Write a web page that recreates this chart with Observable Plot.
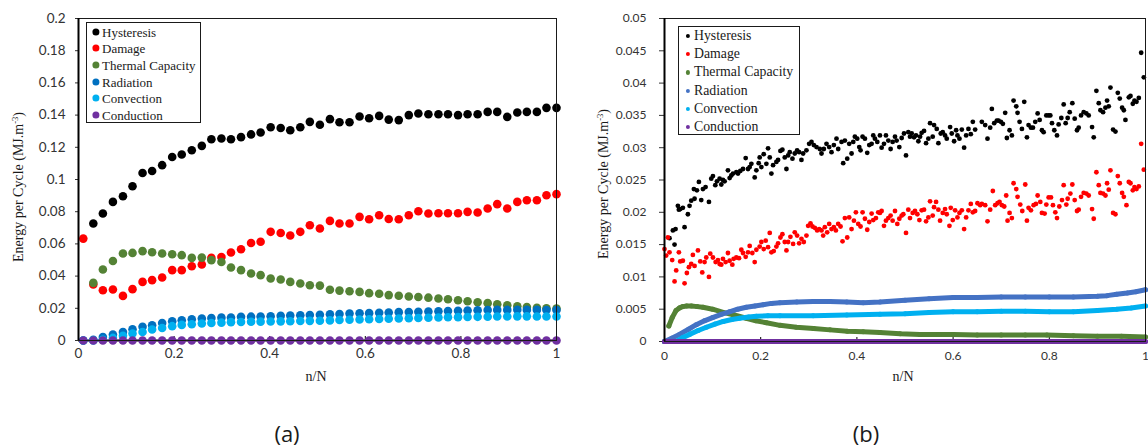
<!DOCTYPE html>
<html><head><meta charset="utf-8">
<script src="https://cdn.jsdelivr.net/npm/d3@7"></script>
<script src="https://cdn.jsdelivr.net/npm/@observablehq/plot@0.6"></script>
<style>
body{margin:0;background:#fff;}
#root{position:relative;width:1148px;height:448px;overflow:hidden;background:#fff;}
.panel{position:absolute;top:0;}
.panel svg{overflow:visible;}
.legend{position:absolute;border:1.3px solid #1a1a1a;background:#fff;box-sizing:border-box;}
.legend .e{position:absolute;white-space:nowrap;font-family:"Liberation Serif",serif;color:#1a1a1a;line-height:1;transform:translateY(-50%);}
.legend .m{position:absolute;border-radius:50%;transform:translate(-50%,-50%);}
.ytitle{position:absolute;white-space:nowrap;font-family:"Liberation Serif",serif;font-size:14px;color:#1a1a1a;transform:translate(-50%,-50%) rotate(-90deg);}
.ytitle sup{font-size:8.5px;vertical-align:5px;}
.xtitle{position:absolute;white-space:nowrap;font-family:"Liberation Serif",serif;font-size:14px;color:#1a1a1a;transform:translate(-50%,-50%);}
.tag{position:absolute;white-space:nowrap;font-family:"Open Sans",sans-serif;font-size:22px;color:#1a1a1a;transform:translate(-50%,-50%);}
</style>
</head><body>
<div id="root"></div>
<script>
// ---------- shared ----------
const seriesNames = ["Hysteresis","Damage","Thermal Capacity","Radiation","Convection","Conduction"];
const colorsA = ["#000000","#ff0000","#548235","#0070c0","#00b0f0","#7030a0"];
const colorsB = ["#000000","#ff0000","#548235","#4472c4","#00b0f0","#7030a0"];
const xTicks = [0, 0.2, 0.4, 0.6, 0.8, 1];
const yTicksA = [0, 0.02, 0.04, 0.06, 0.08, 0.1, 0.12, 0.14, 0.16, 0.18, 0.2];
const yTicksB = [0, 0.005, 0.01, 0.015, 0.02, 0.025, 0.03, 0.035, 0.04, 0.045, 0.05];

// ---------- panel (a) ----------
const nA = [0.01,0.031,0.051,0.072,0.093,0.113,0.134,0.154,0.175,0.196,0.216,0.237,0.258,0.278,0.299,0.319,0.34,0.361,0.381,0.402,0.423,0.443,0.464,0.484,0.505,0.526,0.546,0.567,0.588,0.608,0.629,0.649,0.67,0.691,0.711,0.732,0.753,0.773,0.794,0.814,0.835,0.856,0.876,0.897,0.918,0.938,0.959,0.979,1.0];
const hysA = [null,0.0727,0.0789,0.0861,0.0896,0.0958,0.104,0.1053,0.1089,0.114,0.1155,0.1182,0.1209,0.125,0.1255,0.125,0.1263,0.128,0.1292,0.1325,0.132,0.1306,0.1325,0.1358,0.134,0.1375,0.1356,0.1356,0.1391,0.138,0.1395,0.1372,0.1369,0.140,0.141,0.1405,0.1405,0.1405,0.140,0.1405,0.1405,0.142,0.142,0.1389,0.1416,0.142,0.142,0.1445,0.1445];
const dmgA = [0.0633,0.0348,0.0312,0.0317,0.0277,0.0319,0.0364,0.0375,0.0391,0.0437,0.0437,0.0461,0.0472,0.0513,0.0519,0.0547,0.0567,0.0606,0.0613,0.0675,0.0668,0.0652,0.0675,0.0716,0.0696,0.0743,0.0727,0.0727,0.0768,0.0753,0.0778,0.0755,0.0753,0.0778,0.0803,0.0789,0.079,0.079,0.079,0.0799,0.0795,0.082,0.0847,0.082,0.0861,0.0871,0.0871,0.0902,0.0909];
const thmA = [null,0.0358,0.0441,0.0494,0.054,0.0544,0.0555,0.0548,0.054,0.0536,0.053,0.0513,0.0515,0.0499,0.0488,0.0453,0.0437,0.0416,0.0406,0.0385,0.0379,0.0364,0.0354,0.0343,0.0341,0.0315,0.031,0.0306,0.0302,0.0294,0.029,0.0282,0.0278,0.0273,0.027,0.0266,0.0261,0.0256,0.025,0.0244,0.0238,0.0232,0.0225,0.0219,0.0213,0.0208,0.0203,0.02,0.0199];
const radA = [0,0.0005,0.0022,0.0037,0.0053,0.007,0.0085,0.0095,0.0109,0.012,0.0126,0.0132,0.0137,0.014,0.0142,0.0143,0.0147,0.0148,0.0149,0.0151,0.0153,0.0155,0.0157,0.0158,0.016,0.0163,0.0165,0.0167,0.0169,0.017,0.0172,0.0174,0.0176,0.0177,0.0179,0.018,0.0182,0.0183,0.0185,0.0186,0.0188,0.0189,0.019,0.019,0.0191,0.019,0.019,0.0189,0.0189];
const cnvA = [0,0,0.0005,0.0016,0.0029,0.0043,0.0053,0.0068,0.0078,0.0089,0.0097,0.0101,0.0106,0.0109,0.0111,0.0114,0.0115,0.0116,0.0117,0.0118,0.0119,0.012,0.0121,0.0122,0.0123,0.0125,0.0127,0.0129,0.013,0.0132,0.0134,0.0135,0.0137,0.0138,0.014,0.0141,0.0143,0.0144,0.0145,0.0146,0.0147,0.0148,0.0149,0.0149,0.015,0.015,0.0149,0.0149,0.0149];
const cndA = [0,0,0,0,0,0,0,0,0,0,0,0,0,0,0,0,0,0,0,0,0,0,0,0,0,0,0,0,0,0,0,0,0,0,0,0,0,0,0,0,0,0,0,0,0,0,0,0,0];

// ---------- panel (b) ----------
const hysB = [[0.0104,0.016],[0.0174,0.0172],[0.0209,0.015],[0.023,0.0174],[0.0278,0.021],[0.0299,0.0204],[0.0327,0.0205],[0.0382,0.0207],[0.0417,0.0177],[0.0486,0.0197],[0.0521,0.021],[0.0556,0.0218],[0.0611,0.0236],[0.0625,0.0221],[0.0674,0.0234],[0.0715,0.0247],[0.0764,0.0219],[0.0799,0.0236],[0.0854,0.0239],[0.0924,0.0216],[0.0972,0.0252],[0.1007,0.0256],[0.1056,0.0242],[0.109,0.0248],[0.1146,0.0252],[0.1181,0.0243],[0.1215,0.025],[0.125,0.0248],[0.1319,0.0265],[0.1354,0.0253],[0.1389,0.0257],[0.1424,0.026],[0.1493,0.0262],[0.1528,0.026],[0.1576,0.0264],[0.1632,0.0267],[0.1688,0.0284],[0.1736,0.0267],[0.1771,0.027],[0.1806,0.0275],[0.1875,0.0254],[0.191,0.0265],[0.1958,0.0276],[0.1979,0.0285],[0.2014,0.027],[0.2063,0.029],[0.2118,0.0275],[0.2153,0.0299],[0.2188,0.0285],[0.2222,0.026],[0.2257,0.0273],[0.2326,0.0278],[0.2361,0.0281],[0.241,0.0295],[0.2451,0.0297],[0.25,0.0285],[0.2535,0.0267],[0.257,0.0288],[0.2604,0.0293],[0.266,0.0283],[0.2708,0.0291],[0.2757,0.0296],[0.2799,0.0293],[0.2847,0.0281],[0.2882,0.0291],[0.2951,0.0296],[0.3007,0.0306],[0.3056,0.0309],[0.3104,0.0304],[0.316,0.0301],[0.3229,0.0298],
[0.3264,0.0291],[0.3313,0.0298],[0.3368,0.0306],[0.3424,0.0301],[0.3472,0.0293],[0.3521,0.0304],[0.3576,0.0314],[0.3611,0.0298],[0.3681,0.0309],[0.3715,0.0276],[0.375,0.0311],[0.3799,0.0283],[0.384,0.0306],[0.3889,0.0291],[0.3924,0.0309],[0.3958,0.0317],[0.4007,0.0314],[0.4049,0.0301],[0.4076,0.0296],[0.4118,0.0317],[0.4167,0.0314],[0.4215,0.0292],[0.4257,0.0304],[0.4306,0.0306],[0.434,0.0319],[0.4375,0.0314],[0.4424,0.0309],[0.4479,0.0319],[0.4514,0.03],[0.4563,0.0306],[0.4604,0.0319],[0.4653,0.0311],[0.4701,0.0298],[0.4743,0.0309],[0.4792,0.0317],[0.4826,0.0311],[0.4882,0.0301],[0.4931,0.0315],[0.4979,0.0322],[0.5021,0.0288],[0.5069,0.0324],[0.5104,0.0317],[0.5139,0.0322],[0.5188,0.0316],[0.5229,0.0319],[0.5278,0.031],[0.5313,0.0317],[0.5347,0.0323],[0.5396,0.0326],[0.5438,0.0307],[0.5486,0.0314],[0.5521,0.0338],[0.5576,0.0317],[0.5604,0.0335],[0.566,0.0329],[0.5694,0.0307],[0.5743,0.0322],[0.5785,0.0324],[0.5833,0.0319],[0.5868,0.0314],[0.5938,0.0332],[0.5972,0.0322],[0.6021,0.031],[0.6063,0.0327],[0.609,0.0319],[0.6132,0.0314],[0.6181,0.0328],[0.6229,0.03],[0.6271,0.0319],[0.6319,0.0329],[0.6368,0.0321],[0.641,0.034],[0.6458,0.0328],
[0.6597,0.034],[0.6667,0.0335],[0.6715,0.0314],[0.6771,0.0331],[0.6806,0.036],[0.6854,0.0338],[0.691,0.0342],[0.6944,0.0342],[0.6993,0.034],[0.7035,0.0337],[0.7083,0.0354],[0.7118,0.0315],[0.7174,0.0327],[0.7222,0.0319],[0.7257,0.0373],[0.7313,0.0364],[0.734,0.0354],[0.7382,0.034],[0.7431,0.0329],[0.7479,0.0371],[0.7535,0.0316],[0.7569,0.0335],[0.7618,0.0331],[0.766,0.0331],[0.7708,0.034],[0.7757,0.0353],[0.7799,0.0343],[0.7847,0.0327],[0.7882,0.0324],[0.7938,0.035],[0.7986,0.035],[0.8021,0.035],[0.8056,0.0338],[0.8104,0.0327],[0.816,0.0319],[0.8194,0.0336],[0.825,0.0346],[0.8299,0.0367],[0.834,0.0338],[0.8382,0.0346],[0.8424,0.0355],[0.8479,0.0369],[0.8528,0.0345],[0.8576,0.0327],[0.8611,0.0331],[0.866,0.035],[0.8715,0.0355],[0.8771,0.0353],[0.8819,0.035],[0.8889,0.0332],[0.8924,0.0316],[0.8979,0.0388],[0.9028,0.0369],[0.9063,0.0358],[0.9118,0.0355],[0.9167,0.0362],[0.9201,0.0373],[0.9236,0.0364],[0.9271,0.0393],[0.9326,0.0328],[0.9375,0.0325],[0.9424,0.0385],[0.9465,0.0376],[0.9514,0.0362],[0.9549,0.0358],[0.9583,0.0343],[0.9653,0.0378],[0.9688,0.038],[0.9736,0.0368],[0.9771,0.0373],[0.9813,0.0371],[0.9861,0.0377],[0.991,0.0447],[0.9965,0.0409]];

const dmgB = [[0.0,0.0143],[0.0035,0.0133],[0.007,0.0161],[0.0104,0.0138],[0.016,0.0126],[0.0209,0.0093],[0.0243,0.011],[0.0299,0.0138],[0.0327,0.0124],[0.0382,0.0125],[0.0417,0.009],[0.0465,0.0106],[0.0507,0.0115],[0.0556,0.012],[0.059,0.0134],[0.0625,0.0117],[0.0695,0.0141],[0.0743,0.0124],[0.0785,0.0107],[0.0833,0.0123],[0.0868,0.013],[0.0924,0.01],[0.0951,0.0136],[0.1007,0.013],[0.1063,0.0123],[0.1111,0.0126],[0.1146,0.012],[0.1181,0.0119],[0.1215,0.0128],[0.1271,0.0123],[0.1319,0.0137],[0.1354,0.0125],[0.141,0.0119],[0.1438,0.0128],[0.1493,0.013],[0.1549,0.0129],[0.1597,0.0142],[0.1632,0.0137],[0.1688,0.0131],[0.1736,0.0138],[0.1771,0.0148],[0.1826,0.0137],[0.1875,0.0123],[0.191,0.0142],[0.1979,0.0147],[0.2014,0.0154],[0.2063,0.0143],[0.2104,0.0156],[0.2153,0.0146],[0.2188,0.0168],[0.2222,0.0138],[0.2271,0.014],[0.2326,0.0147],[0.2361,0.0152],[0.241,0.0161],[0.2451,0.0166],[0.25,0.0154],[0.2535,0.0141],[0.257,0.0154],[0.2618,0.0162],[0.2674,0.0151],[0.2708,0.0169],[0.2757,0.0164],[0.2799,0.0152],[0.2847,0.0159],[0.2896,0.0154],[0.2951,0.0164],[0.2986,0.0179],[0.3035,0.0183],[0.3076,0.0178],[0.3125,0.0176],[0.3174,0.0172],[0.3215,0.0174],
[0.3264,0.0172],[0.3299,0.0164],[0.3333,0.0177],[0.3382,0.0169],[0.3424,0.0182],[0.3472,0.0174],[0.3521,0.0177],[0.3563,0.0172],[0.3611,0.0182],[0.366,0.0178],[0.3701,0.0155],[0.375,0.0191],[0.3799,0.0161],[0.384,0.0192],[0.3889,0.0174],[0.3938,0.0187],[0.3979,0.02],[0.4028,0.0182],[0.4076,0.0178],[0.4118,0.02],[0.4167,0.019],[0.4215,0.0173],[0.4257,0.0185],[0.4306,0.0198],[0.434,0.0188],[0.4396,0.0191],[0.4444,0.02],[0.4479,0.0199],[0.4514,0.0202],[0.4563,0.0179],[0.4604,0.0187],[0.4653,0.0191],[0.4701,0.0195],[0.4743,0.0187],[0.4792,0.0202],[0.484,0.0182],[0.4882,0.019],[0.4931,0.0195],[0.4965,0.0197],[0.5021,0.0168],[0.5069,0.0204],[0.5104,0.0191],[0.516,0.0199],[0.5208,0.0202],[0.5257,0.0197],[0.5299,0.0188],[0.5347,0.0203],[0.5396,0.0204],[0.5438,0.0186],[0.5486,0.0192],[0.5521,0.0217],[0.5576,0.0195],[0.5604,0.0208],[0.5646,0.0216],[0.5694,0.0204],[0.5729,0.0187],[0.5785,0.0199],[0.5833,0.0205],[0.5868,0.0197],[0.5924,0.0179],[0.5951,0.0207],[0.5993,0.0188],[0.6042,0.0203],[0.609,0.0192],[0.6132,0.0199],[0.6181,0.0203],[0.6229,0.0174],[0.6271,0.0192],[0.6319,0.0203],[0.6368,0.0213],[0.641,0.02],[0.6458,0.0202],[0.6507,0.0214],[0.6563,0.0211],
[0.6597,0.0213],[0.6667,0.0211],[0.6715,0.0186],[0.6771,0.0204],[0.6826,0.0233],[0.6875,0.0211],[0.6924,0.0214],[0.6965,0.0216],[0.7014,0.0211],[0.7063,0.0209],[0.7104,0.0226],[0.7132,0.0187],[0.7174,0.0199],[0.7222,0.0191],[0.7257,0.0245],[0.7313,0.0236],[0.734,0.0224],[0.7396,0.0212],[0.7438,0.0202],[0.75,0.0243],[0.7535,0.0187],[0.7569,0.0207],[0.7618,0.0203],[0.7674,0.0211],[0.7722,0.0213],[0.7757,0.0226],[0.7813,0.0216],[0.7847,0.0199],[0.7903,0.0198],[0.7938,0.0212],[0.7986,0.0223],[0.8035,0.0223],[0.8076,0.0211],[0.8125,0.02],[0.816,0.0191],[0.8208,0.0209],[0.8264,0.0219],[0.8299,0.0242],[0.8354,0.0212],[0.8382,0.0221],[0.8438,0.0229],[0.8479,0.0243],[0.8528,0.0219],[0.8576,0.0202],[0.8611,0.0204],[0.866,0.0224],[0.8715,0.023],[0.8771,0.0229],[0.8819,0.0226],[0.8889,0.0205],[0.8924,0.019],[0.8979,0.0262],[0.9028,0.0242],[0.9063,0.023],[0.9118,0.0229],[0.9167,0.0226],[0.9201,0.0245],[0.9236,0.0235],[0.9271,0.0265],[0.9326,0.0199],[0.9375,0.0197],[0.9424,0.0256],[0.9465,0.0245],[0.9514,0.023],[0.9549,0.0224],[0.9604,0.0211],[0.9653,0.0247],[0.9688,0.0245],[0.9736,0.0234],[0.9771,0.0239],[0.9813,0.0236],[0.9861,0.024],[0.991,0.0306],[0.9965,0.0266]];

const thmB_x = [0.009,0.016,0.024,0.031,0.038,0.046,0.056,0.068,0.08,0.1,0.122,0.145,0.17,0.19,0.212,0.24,0.274,0.31,0.344,0.38,0.413,0.448,0.49,0.531,0.57,0.601,0.65,0.7,0.75,0.795,0.85,0.9,0.95,1.0];
const thmB_y = [0.0024,0.0037,0.0048,0.0052,0.0054,0.0055,0.0055,0.0054,0.0053,0.005,0.0045,0.0041,0.0036,0.0032,0.0029,0.0025,0.0022,0.002,0.0018,0.0016,0.0015,0.0014,0.0012,0.0011,0.0011,0.0011,0.001,0.001,0.001,0.001,0.0009,0.0008,0.0008,0.0007];
const radB_x = [0,0.015,0.031,0.05,0.066,0.083,0.1,0.118,0.135,0.152,0.17,0.188,0.205,0.222,0.24,0.275,0.309,0.344,0.379,0.413,0.448,0.5,0.55,0.6,0.65,0.7,0.75,0.8,0.85,0.9,0.92,0.94,0.962,0.98,1.0];
const radB_y = [0,0.0005,0.0011,0.0019,0.0026,0.0032,0.0037,0.0042,0.0046,0.005,0.0053,0.0055,0.0057,0.0059,0.006,0.0061,0.0062,0.0062,0.0061,0.006,0.0061,0.0064,0.0066,0.0068,0.0068,0.0069,0.0069,0.0069,0.0069,0.007,0.0071,0.0073,0.0075,0.0077,0.008];
const cnvB_x = [0,0.024,0.038,0.052,0.07,0.087,0.105,0.122,0.14,0.156,0.175,0.191,0.215,0.24,0.309,0.379,0.448,0.5,0.55,0.6,0.65,0.7,0.75,0.8,0.85,0.9,0.94,0.97,1.0];
const cnvB_y = [0,0,0.0006,0.0011,0.0017,0.0022,0.0027,0.0031,0.0034,0.0036,0.0038,0.0039,0.004,0.004,0.004,0.0041,0.0042,0.0043,0.0045,0.0046,0.0046,0.0047,0.0047,0.0046,0.0046,0.0048,0.005,0.0052,0.0055];
const cndB_x = [0,0.25,0.5,0.75,1.0];
const cndB_y = [0,0,0,0,0];

// ---------- helpers ----------
const fmt = d => String(+(+d).toFixed(4));
const root = document.getElementById("root");
const zip = (xs, ys) => xs.map((x, i) => ({x, y: ys[i]}));

function place(node, left, top) {
  const div = document.createElement("div");
  div.className = "panel";
  div.style.left = left + "px";
  div.style.top = top + "px";
  div.appendChild(node);
  root.appendChild(div);
}

// ---------- plot (a) ----------
const rowsA = nA.map((x, i) => ({x, v: [hysA[i], dmgA[i], thmA[i], radA[i], cnvA[i], cndA[i]]}));
const plotA = Plot.plot({
  width: 570, height: 395,
  marginLeft: 78, marginRight: 14, marginTop: 18, marginBottom: 55,
  x: {domain: [0, 1]},
  y: {domain: [0, 0.2]},
  style: {fontFamily: "Lato, sans-serif", fontSize: "13.5px", color: "#333", background: "transparent", overflow: "visible"},
  marks: [
    Plot.ruleY([0], {stroke: "#000", strokeWidth: 2}),
    Plot.tickX(xTicks, {x: d => d, insetTop: 318, stroke: "#000"}),
    Plot.axisX({ticks: xTicks, tickFormat: fmt, tickSize: 0, tickPadding: 8, label: null}),
    Plot.axisY({ticks: yTicksA, tickFormat: fmt, tickSize: 3, tickPadding: 10, label: null}),
    ...seriesNames.map((s, j) => Plot.dot(rowsA.filter(r => r.v[j] != null), {x: "x", y: r => r.v[j], r: 4.3, fill: colorsA[j]})),
    Plot.frame({stroke: "#1a1a1a", strokeWidth: 1}),
    Plot.ruleX([0], {stroke: "#000", strokeWidth: 2})
  ]
});
place(plotA, 0, 0);

// ---------- plot (b) ----------
const lineSeriesB = [zip(thmB_x, thmB_y), zip(radB_x, radB_y), zip(cnvB_x, cnvB_y), zip(cndB_x, cndB_y)];
const plotB = Plot.plot({
  width: 568, height: 395,
  marginLeft: 84, marginRight: 3, marginTop: 18, marginBottom: 54,
  x: {domain: [0, 1]},
  y: {domain: [0, 0.05]},
  style: {fontFamily: "Lato, sans-serif", fontSize: "12px", color: "#333", background: "transparent", overflow: "visible"},
  marks: [
    Plot.ruleY([0], {stroke: "#000", strokeWidth: 2}),
    Plot.tickX(xTicks, {x: d => d, insetTop: 319, stroke: "#000"}),
    Plot.axisX({ticks: xTicks, tickFormat: fmt, tickSize: 0, tickPadding: 10, label: null}),
    Plot.axisY({ticks: yTicksB, tickFormat: fmt, tickSize: 5, tickPadding: 13, label: null}),
    Plot.dot(hysB, {x: d => d[0], y: d => d[1], r: 2.4, fill: colorsB[0]}),
    Plot.dot(dmgB, {x: d => d[0], y: d => d[1], r: 2.4, fill: colorsB[1]}),
    ...lineSeriesB.flatMap((data, j) => [
      Plot.line(data, {x: "x", y: "y", stroke: colorsB[j + 2], strokeWidth: 5, strokeLinecap: "round", strokeLinejoin: "round"}),
      Plot.dot(data, {x: "x", y: "y", r: 2.5, fill: colorsB[j + 2]})
    ]),
    Plot.frame({stroke: "#1a1a1a", strokeWidth: 1}),
    Plot.ruleX([0], {stroke: "#000", strokeWidth: 2})
  ]
});
place(plotB, 580, 0);

// ---------- legends ----------
function legend(cfg) {
  const box = document.createElement("div");
  box.className = "legend";
  Object.assign(box.style, {left: cfg.left + "px", top: cfg.top + "px", width: cfg.width + "px", height: cfg.height + "px"});
  seriesNames.forEach((name, i) => {
    const cy = cfg.y0 + cfg.dy * i;
    const m = document.createElement("div");
    m.className = "m";
    Object.assign(m.style, {left: cfg.mx + "px", top: cy + "px", width: 2 * cfg.r + "px", height: 2 * cfg.r + "px", background: cfg.colors[i]});
    const t = document.createElement("div");
    t.className = "e";
    t.textContent = name;
    Object.assign(t.style, {left: cfg.tx + "px", top: cy + "px", fontSize: cfg.fs + "px", letterSpacing: cfg.ls + "px"});
    box.appendChild(m); box.appendChild(t);
  });
  root.appendChild(box);
}
legend({left: 86, top: 22, width: 115, height: 101, y0: 8.5, dy: 16.7, mx: 8.5, r: 3.6, tx: 15, fs: 13, ls: 0, colors: colorsA});
legend({left: 678, top: 26, width: 122, height: 109, y0: 9, dy: 18.2, mx: 8.5, r: 2.1, tx: 15, fs: 13.8, ls: 0, colors: colorsB});

// ---------- titles ----------
function addText(cls, html, x, y) {
  const d = document.createElement("div");
  d.className = cls;
  d.innerHTML = html;
  d.style.left = x + "px";
  d.style.top = y + "px";
  root.appendChild(d);
}
addText("ytitle", "Energy per Cycle (MJ.m<sup>-3</sup>)", 18, 187);
addText("ytitle", "Energy per Cycle (MJ.m<sup>-3</sup>)", 603, 184);
addText("xtitle", "n/N", 316, 377);
addText("xtitle", "n/N", 903, 377);
addText("tag", "(a)", 287, 433);
addText("tag", "(b)", 866, 433);
</script>
</body></html>
